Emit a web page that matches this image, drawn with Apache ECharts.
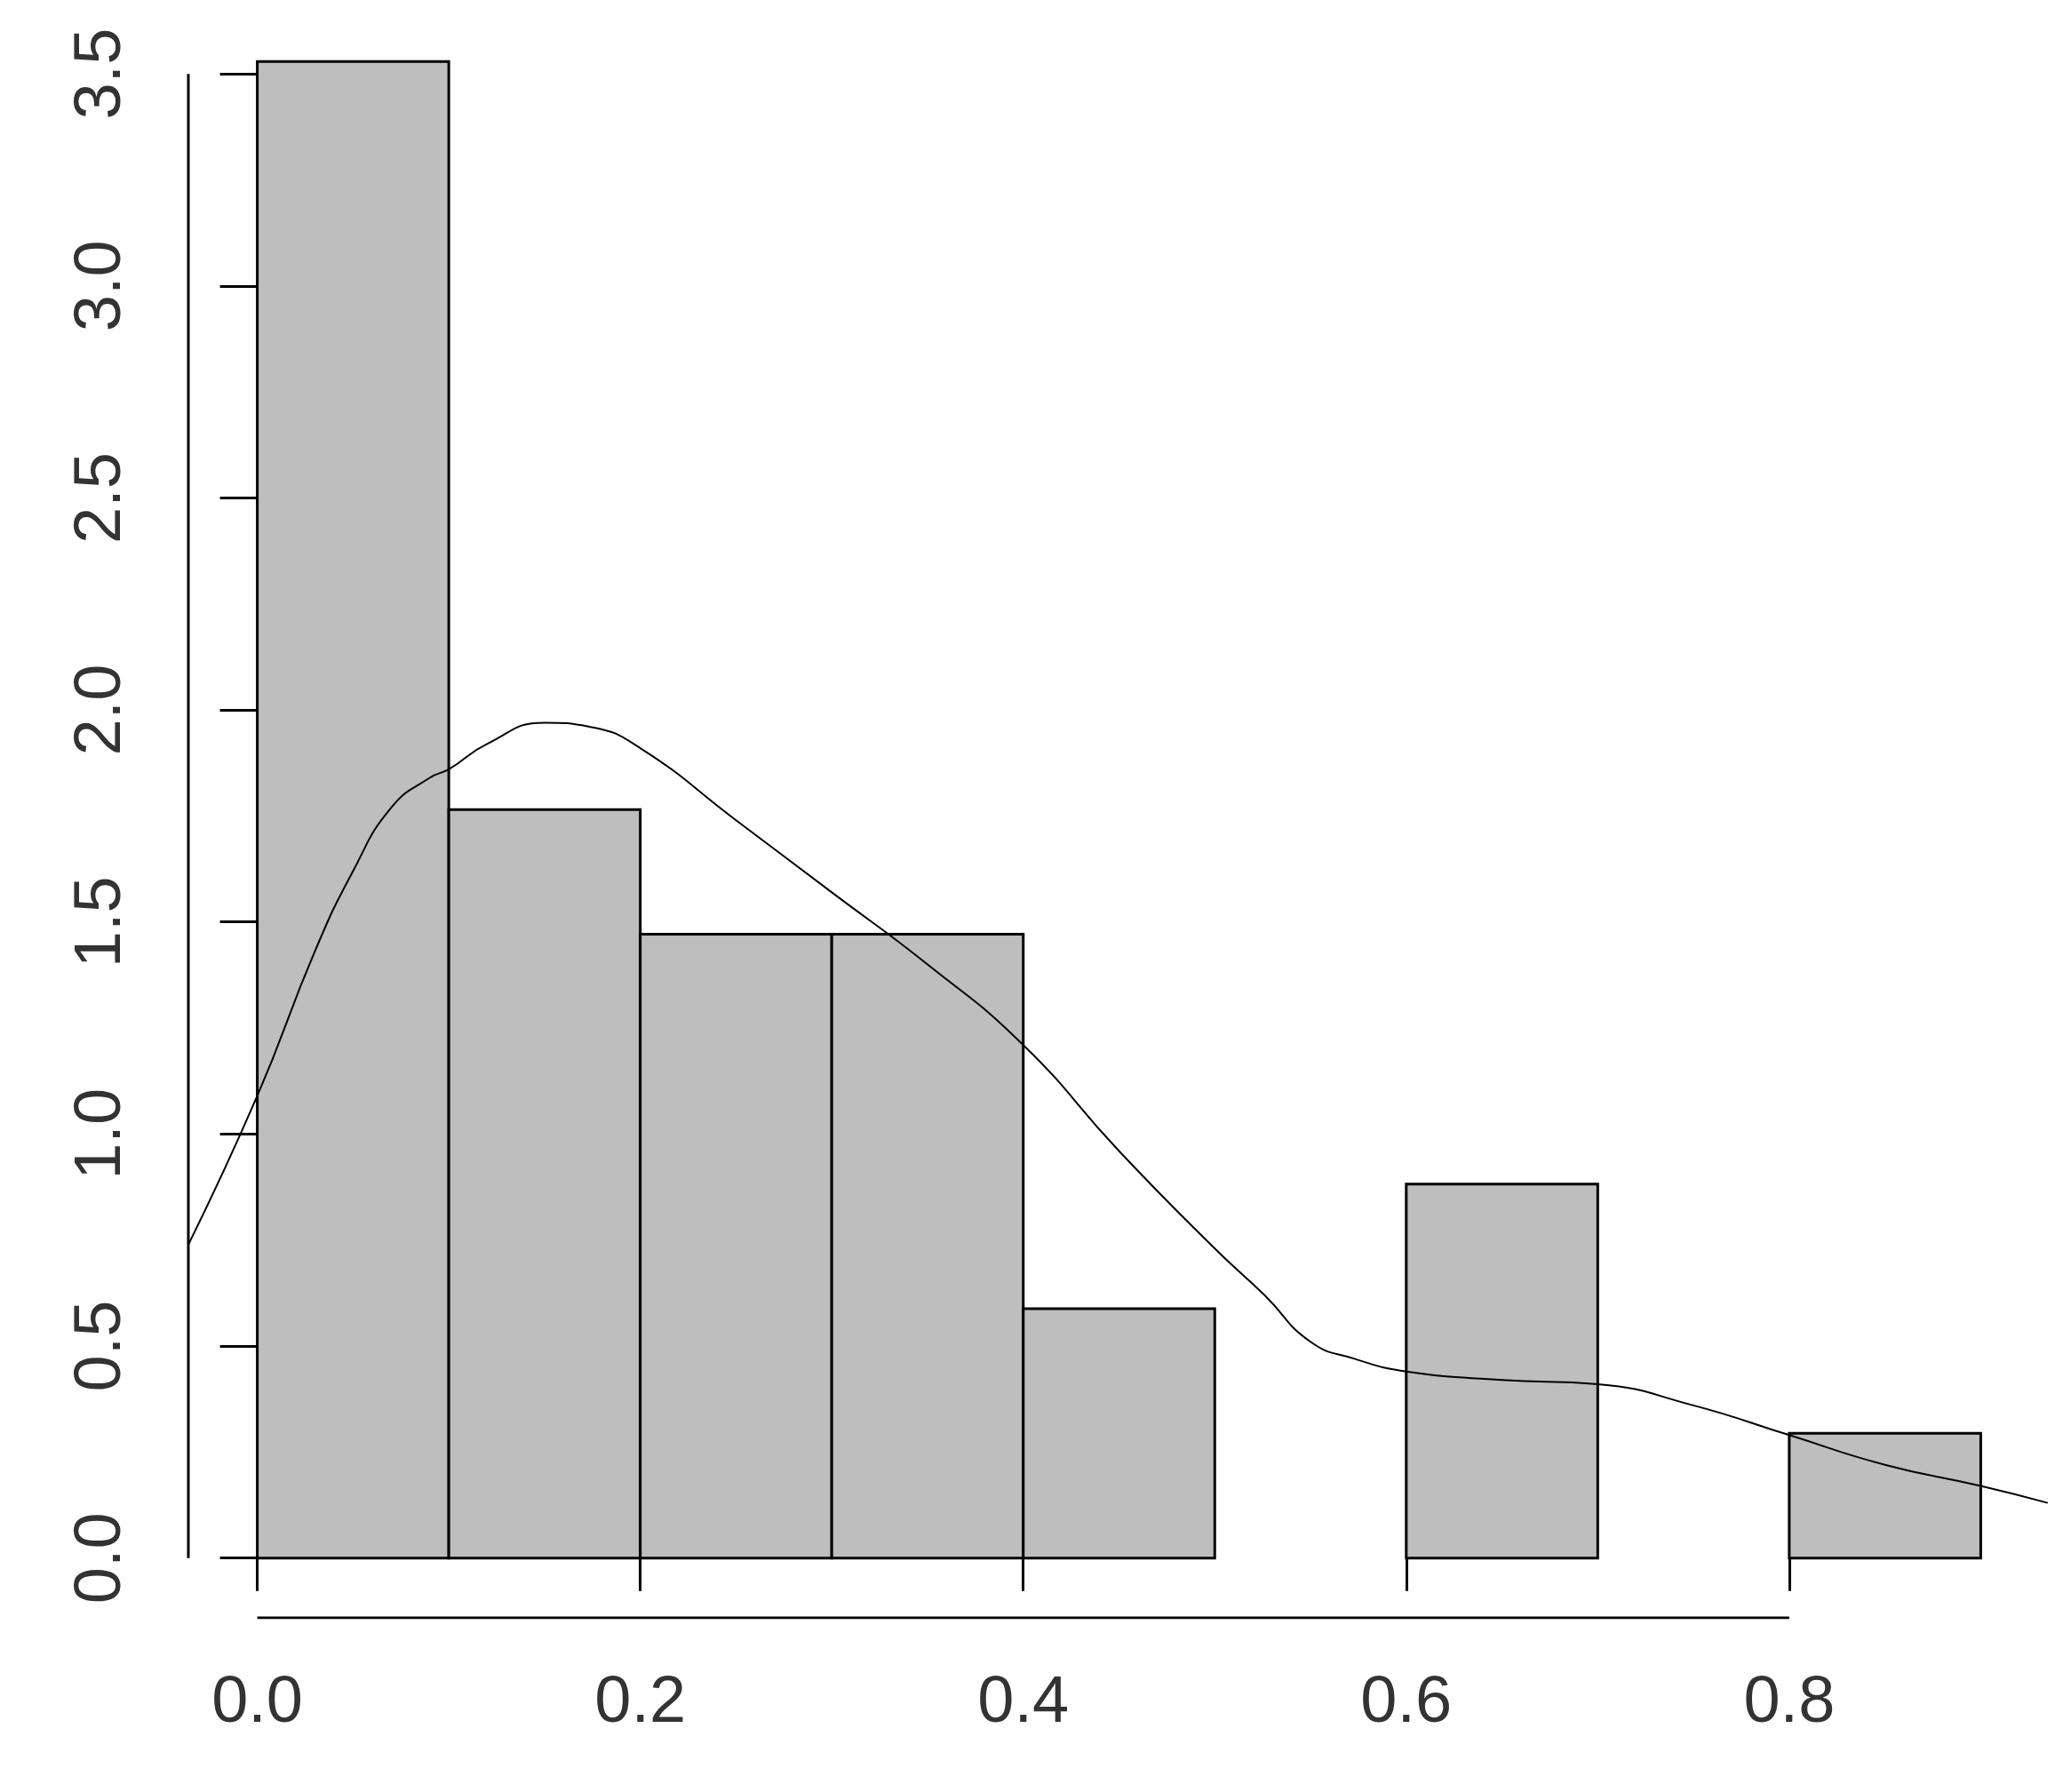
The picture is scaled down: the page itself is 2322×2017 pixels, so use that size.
<!DOCTYPE html>
<html><head><meta charset="utf-8">
<script src="https://cdn.jsdelivr.net/npm/echarts@6/dist/echarts.min.js"></script>
<style>html,body{margin:0;background:#fff}#c{width:2322px;height:2017px}</style>
</head><body><div id="c"></div>
<script>
// histogram bins (density)
const binStarts = [0, 0.1, 0.2, 0.3, 0.4, 0.5, 0.6, 0.7, 0.8]
const binDensity = [3.529, 1.765, 1.471, 1.471, 0.588, 0, 0.882, 0, 0.294]
// kernel density curve
const curveX = [-0.037, 0, 0.03, 0.05, 0.07, 0.09, 0.1, 0.12, 0.15, 0.174, 0.2, 0.25, 0.3, 0.35, 0.4, 0.45, 0.5, 0.526, 0.55, 0.573, 0.6, 0.65, 0.7, 0.75, 0.8, 0.85, 0.9, 0.935]
const curveY = [0.73, 1.09, 1.43, 1.62, 1.77, 1.84, 1.86, 1.92, 1.97, 1.96, 1.91, 1.74, 1.57, 1.4, 1.21, 0.96, 0.73, 0.62, 0.51, 0.47, 0.44, 0.42, 0.41, 0.36, 0.29, 0.22, 0.17, 0.13]
const xTicks = [0, 0.2, 0.4, 0.6, 0.8]
const yTicks = [0, 0.5, 1, 1.5, 2, 2.5, 3, 3.5]

const xMin = -0.036, xMax = 0.936, yMin = -0.141, yMax = 3.67
const lbl = { fontFamily: 'Liberation Sans', fontSize: 74, color: '#333' }

let chart = echarts.init(document.getElementById('c'))
chart.setOption({
  animation: false,
  grid: { left: 212, right: 15, top: 2, bottom: 196 },
  xAxis: {
    type: 'value', min: xMin, max: xMax,
    splitLine: { show: false }, axisLine: { show: false },
    axisTick: { show: true, length: 37, customValues: xTicks, lineStyle: { color: '#000', width: 3 } },
    axisLabel: Object.assign({ customValues: xTicks, margin: 60, formatter: (v) => v.toFixed(1) }, lbl),
  },
  yAxis: {
    type: 'value', min: yMin, max: yMax,
    splitLine: { show: false }, axisLine: { show: false },
    axisTick: { show: true, length: 42, customValues: yTicks, lineStyle: { color: '#000', width: 3 } },
    axisLabel: Object.assign({ customValues: yTicks, rotate: 90, margin: 60, formatter: (v) => v.toFixed(1) }, lbl),
  },
  series: [
    {
      type: 'custom',
      data: binStarts.map((s, i) => [s, s + 0.1, binDensity[i]]),
      renderItem: (params, api) => {
        if (api.value(2) <= 0) return
        let p0 = api.coord([api.value(0), api.value(2)])
        let p1 = api.coord([api.value(1), 0])
        return {
          type: 'rect',
          shape: { x: p0[0], y: p0[1], width: p1[0] - p0[0], height: p1[1] - p0[1] },
          style: { fill: '#bebebe', stroke: '#000', lineWidth: 3 },
        }
      },
      z: 2,
    },
    {
      type: 'line', smooth: true, symbol: 'none',
      data: curveX.map((x, i) => [x, curveY[i]]),
      lineStyle: { color: '#000', width: 2 }, z: 3,
    },
    {
      // x axis line
      type: 'line', symbol: 'none',
      data: [[xTicks[0], yMin], [xTicks[xTicks.length - 1], yMin]],
      lineStyle: { color: '#000', width: 3 },
    },
    {
      // y axis line
      type: 'line', symbol: 'none',
      data: [[xMin, yTicks[0]], [xMin, yTicks[yTicks.length - 1]]],
      lineStyle: { color: '#000', width: 3 },
    },
  ],
})
</script>
</body></html>
